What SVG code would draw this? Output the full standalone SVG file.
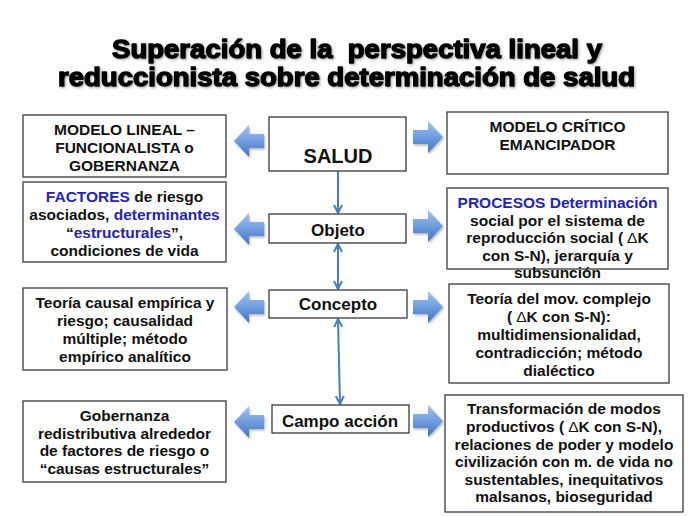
<svg xmlns="http://www.w3.org/2000/svg" width="689" height="517" viewBox="0 0 689 517">
<defs>
<style>
.t{font-family:"Liberation Sans",Arial,Helvetica,sans-serif;font-weight:bold;fill:#111;text-anchor:middle}
.b{font-size:15.5px}
.c{font-size:17px}
.title{font-family:"Liberation Sans",Arial,Helvetica,sans-serif;font-weight:bold;font-size:25.5px;fill:#000;stroke:#000;stroke-width:1.4;stroke-linejoin:round;white-space:pre}
.box{fill:#fff;stroke:#3a3a3a;stroke-width:1.3}
.blue{fill:#2424b0}
.con{fill:none;stroke:#4a7ebb;stroke-width:2}
.blk{fill:url(#g);filter:url(#sh)}
</style>
<linearGradient id="g" x1="0" y1="0" x2="0" y2="1">
<stop offset="0" stop-color="#a3c4ef"/>
<stop offset="0.5" stop-color="#6f9ddf"/>
<stop offset="1" stop-color="#3f72c2"/>
</linearGradient>
<filter id="sh" x="-20%" y="-20%" width="150%" height="150%">
<feDropShadow dx="1" dy="1.5" stdDeviation="1" flood-color="#000" flood-opacity="0.3"/>
</filter>
<filter id="tsh" x="-5%" y="-20%" width="110%" height="150%">
<feDropShadow dx="1.2" dy="1.2" stdDeviation="0.8" flood-color="#000" flood-opacity="0.35"/>
</filter>
<path id="la" d="M0,0 L15,-16 L15,-7 L30,-7 L30,7 L15,7 L15,16 Z"/>
<path id="ra" d="M0,-7 L15,-7 L15,-16 L30,0 L15,16 L15,7 L0,7 Z"/>
<marker id="ah" viewBox="0 0 10 10" refX="9" refY="5" markerWidth="5" markerHeight="5" orient="auto-start-reverse" markerUnits="strokeWidth">
<path d="M1,1 L9,5 L1,9" fill="none" stroke="#4a7ebb" stroke-width="2"/>
</marker>
</defs>
<rect width="689" height="517" fill="#fff"/>

<g id="title" filter="url(#tsh)">
<text class="title" x="112" y="58" textLength="490" lengthAdjust="spacingAndGlyphs">Superación de la  perspectiva lineal y</text>
<text class="title" x="58" y="86" textLength="577" lengthAdjust="spacingAndGlyphs">reduccionista sobre determinación de salud</text>
</g>

<g id="connectors">
<line class="con" x1="338" y1="171" x2="338" y2="213" marker-end="url(#ah)"/>
<line class="con" x1="338" y1="244" x2="338" y2="289" marker-start="url(#ah)" marker-end="url(#ah)"/>
<line class="con" x1="338" y1="319" x2="340" y2="404" marker-start="url(#ah)" marker-end="url(#ah)"/>
<use href="#la" class="blk" x="234" y="141"/>
<use href="#la" class="blk" x="234" y="229"/>
<use href="#la" class="blk" x="234" y="307"/>
<use href="#la" class="blk" x="234" y="422"/>
<use href="#ra" class="blk" x="413" y="137"/>
<use href="#ra" class="blk" x="413" y="226"/>
<use href="#ra" class="blk" x="413" y="307"/>
<use href="#ra" class="blk" x="413" y="421"/>
</g>

<g id="salud">
<rect class="box" x="269" y="117" width="137" height="54"/>
<text class="t" x="338" y="163" font-size="20">SALUD</text>
</g>
<g id="objeto">
<rect class="box" x="269" y="214" width="137" height="29"/>
<text class="t c" x="338" y="236">Objeto</text>
</g>
<g id="concepto">
<rect class="box" x="269" y="290" width="138" height="28"/>
<text class="t c" x="338" y="310">Concepto</text>
</g>
<g id="campo">
<rect class="box" x="272" y="405" width="137" height="28"/>
<text class="t c" x="340" y="427">Campo acción</text>
</g>

<g id="modelo-lineal">
<rect class="box" x="23" y="115" width="203" height="62"/>
<text class="t b" x="124.5" y="135">MODELO LINEAL –</text>
<text class="t b" x="124.5" y="153">FUNCIONALISTA o</text>
<text class="t b" x="124.5" y="170.5">GOBERNANZA</text>
</g>
<g id="factores">
<rect class="box" x="23" y="182" width="203" height="80"/>
<text class="t b" x="124.5" y="202"><tspan class="blue">FACTORES</tspan> de riesgo</text>
<text class="t b" x="124.5" y="220">asociados, <tspan class="blue">determinantes</tspan></text>
<text class="t b" x="124.5" y="238">“<tspan class="blue">estructurales</tspan>”,</text>
<text class="t b" x="124.5" y="256">condiciones de vida</text>
</g>
<g id="teoria-causal">
<rect class="box" x="23" y="288" width="204" height="82"/>
<text class="t b" x="125" y="308">Teoría causal empírica y</text>
<text class="t b" x="125" y="326">riesgo; causalidad</text>
<text class="t b" x="125" y="344">múltiple; método</text>
<text class="t b" x="125" y="362">empírico analítico</text>
</g>
<g id="gobernanza">
<rect class="box" x="23" y="401" width="203" height="81"/>
<text class="t b" x="124.5" y="421">Gobernanza</text>
<text class="t b" x="124.5" y="438.5">redistributiva alrededor</text>
<text class="t b" x="124.5" y="456">de factores de riesgo o</text>
<text class="t b" x="124.5" y="473.5">“causas estructurales”</text>
</g>

<g id="modelo-critico">
<rect class="box" x="447" y="112" width="221" height="62"/>
<text class="t b" x="557.5" y="132">MODELO CRÍTICO</text>
<text class="t b" x="557.5" y="150">EMANCIPADOR</text>
</g>
<g id="procesos">
<rect class="box" x="447" y="188" width="221" height="81"/>
<text class="t b blue" x="557.5" y="208">PROCESOS Determinación</text>
<text class="t b" x="557.5" y="225.5">social por el sistema de</text>
<text class="t b" x="557.5" y="243">reproducción social (<tspan font-weight="normal" dx="4">Δ</tspan>K</text>
<text class="t b" x="557.5" y="260.5">con S-N), jerarquía y</text>
<text class="t b" x="557.5" y="278">subsunción</text>
</g>
<g id="teoria-mov">
<rect class="box" x="449" y="284" width="220" height="99"/>
<text class="t b" x="559" y="304">Teoría del mov. complejo</text>
<text class="t b" x="559" y="322">(<tspan font-weight="normal" dx="4">Δ</tspan>K con S-N):</text>
<text class="t b" x="559" y="340">multidimensionalidad,</text>
<text class="t b" x="559" y="358">contradicción; método</text>
<text class="t b" x="559" y="375.5">dialéctico</text>
</g>
<g id="transformacion">
<rect class="box" x="445" y="395" width="238" height="117"/>
<text class="t b" x="564" y="414">Transformación de modos</text>
<text class="t b" x="564" y="432">productivos (<tspan font-weight="normal" dx="4">Δ</tspan>K con S-N),</text>
<text class="t b" x="564" y="449.5">relaciones de poder y modelo</text>
<text class="t b" x="564" y="467">civilización con m. de vida no</text>
<text class="t b" x="564" y="484.5">sustentables, inequitativos</text>
<text class="t b" x="564" y="502">malsanos, bioseguridad</text>
</g>
</svg>
